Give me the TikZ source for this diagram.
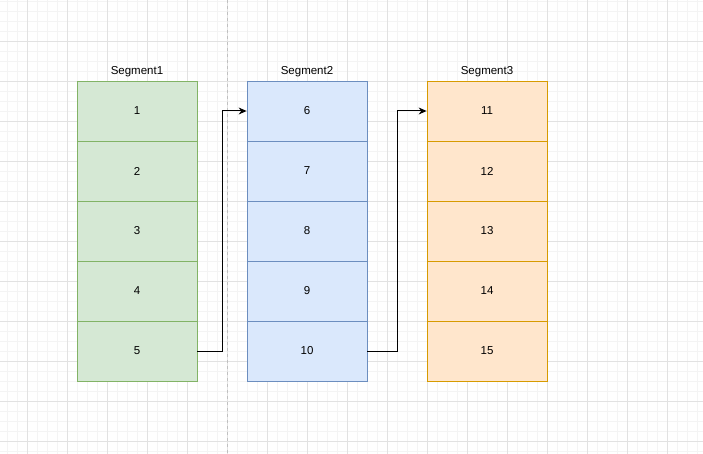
\documentclass[tikz,border=0pt]{standalone}
\usepackage{fontspec}
\setmainfont{Liberation Sans}
\usetikzlibrary{arrows.meta}
\definecolor{gfill}{HTML}{D5E8D4}\definecolor{gdraw}{HTML}{82B366}
\definecolor{bfill}{HTML}{DAE8FC}\definecolor{bdraw}{HTML}{6C8EBF}
\definecolor{ofill}{HTML}{FFE6CC}\definecolor{odraw}{HTML}{D79B00}
\definecolor{gridminor}{HTML}{F4F4F4}\definecolor{gridmajor}{HTML}{E2E2E2}
\definecolor{dashgray}{HTML}{C0C0C0}
\tikzset{
  cellbox/.style={draw, line width=0.8pt, minimum width=120pt, minimum height=60pt, inner sep=0pt, font=\fontsize{11.5}{13}\selectfont},
  gcell/.style={cellbox, fill=gfill, draw=gdraw},
  bcell/.style={cellbox, fill=bfill, draw=bdraw},
  ocell/.style={cellbox, fill=ocell@fill, draw=odraw},
  ocell/.style={cellbox, fill=ofill, draw=odraw},
  seglabel/.style={font=\fontsize{11.5}{13}\selectfont, inner sep=0pt},
  link/.style={line width=1pt, -{Stealth[length=8pt,width=7pt]}}
}
\begin{document}
\begin{tikzpicture}[x=1pt,y=-1pt]
\fill[white] (0,0) rectangle (703,454);
\useasboundingbox (0,0) rectangle (703,454);
\foreach \x in {7,17,...,697} \draw[gridminor, line width=0.8pt] (\x,0) -- (\x,454);
\foreach \y in {1,11,...,451} \draw[gridminor, line width=0.8pt] (0,\y) -- (703,\y);
\foreach \x in {27,67,...,667} \draw[gridmajor, line width=0.8pt] (\x,0) -- (\x,454);
\foreach \y in {41,81,...,441} \draw[gridmajor, line width=0.8pt] (0,\y) -- (703,\y);
\draw[dashgray, line width=0.8pt, dash pattern=on 3pt off 3pt] (227.5,0) -- (227.5,454);
% columns
\foreach \i in {1,...,5} {
  \node[gcell] (a\i) at (137,{51+60*\i}) {\i};
}
\foreach \i [evaluate=\i as \n using int(\i+5)] in {1,...,5} {
  \node[bcell] (b\i) at (307,{51+60*\i}) {\n};
}
\foreach \i [evaluate=\i as \n using int(\i+10)] in {1,...,5} {
  \node[ocell] (c\i) at (487,{51+60*\i}) {\n};
}
\node[seglabel] (l1) at (137,72) {Segment1};
\node[seglabel] (l2) at (307,72) {Segment2};
\node[seglabel] (l3) at (487,72) {Segment3};
\draw[link] (a5.east) -- ++(25,0) |- (b1.west);
\draw[link] (b5.east) -- ++(30.5,0) |- (c1.west);
\end{tikzpicture}
\end{document}
